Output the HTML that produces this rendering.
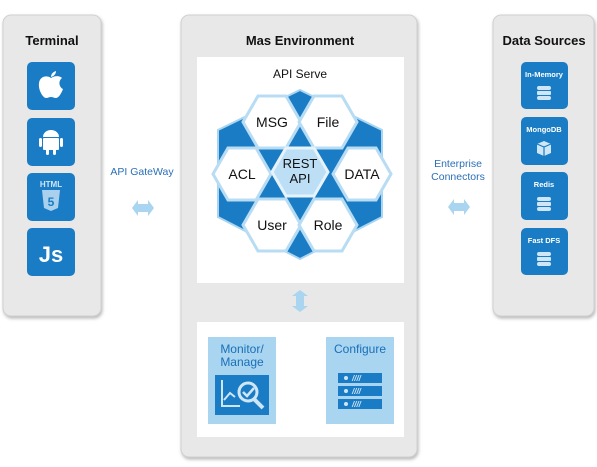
<!DOCTYPE html>
<html><head><style>
body{margin:0;background:#fff;}
svg{display:block;font-family:"Liberation Sans",sans-serif;}
</style></head><body>
<svg width="597" height="467" viewBox="0 0 597 467" xmlns="http://www.w3.org/2000/svg">
<defs>
<filter id="sh" x="-10%" y="-10%" width="130%" height="130%"><feDropShadow dx="1" dy="2" stdDeviation="1.5" flood-color="#888" flood-opacity="0.6"/></filter>
</defs>
<rect x="3" y="15" width="98" height="301" rx="8" fill="#e8e8e8" stroke="#d0d0d0" filter="url(#sh)"/>
<rect x="181" y="15" width="236" height="442" rx="8" fill="#e8e8e8" stroke="#d0d0d0" filter="url(#sh)"/>
<rect x="493" y="15" width="101" height="301" rx="8" fill="#e8e8e8" stroke="#d0d0d0" filter="url(#sh)"/>
<text x="52" y="45" font-size="13" font-weight="bold" text-anchor="middle" fill="#111">Terminal</text>
<text x="300" y="45" font-size="13" font-weight="bold" text-anchor="middle" fill="#111">Mas  Environment</text>
<text x="544" y="45" font-size="13" font-weight="bold" text-anchor="middle" fill="#111">Data Sources</text>
<g fill="#1a7cc4">
<rect x="27" y="62" width="48" height="48" rx="5"/>
<rect x="27" y="118" width="48" height="48" rx="5"/>
<rect x="27" y="173" width="48" height="48" rx="5"/>
<rect x="27" y="228" width="48" height="48" rx="5"/>
</g>
<path d="M51 78 c-4 -3 -11 -2 -12 5 c-1 7 4 15 7 15 c2 0 3 -1 5 -1 c2 0 3 1 5 1 c3 0 6 -6 7 -9 c-4 -2 -5 -8 -1 -11 c-3 -3 -8 -2 -11 0z M51 77 c0 -3 2 -5 5 -6 c0 3 -2 5 -5 6z" fill="#fff"/>
<g fill="#fff"><path d="M43 137 a8 7 0 0 1 16 0z"/><rect x="43" y="138" width="16" height="12" rx="1"/><rect x="39" y="138" width="3" height="9" rx="1.5"/><rect x="60" y="138" width="3" height="9" rx="1.5"/><rect x="46" y="149" width="3" height="6" rx="1.5"/><rect x="53" y="149" width="3" height="6" rx="1.5"/></g>
<text x="51" y="187" font-size="8" font-weight="bold" fill="#cfe6f7" text-anchor="middle">HTML</text>
<path d="M42 190 h18 l-2 18 l-7 3 l-7 -3z" fill="#a9d1ee"/>
<text x="51" y="206" font-size="12" font-weight="bold" fill="#1a7cc4" text-anchor="middle">5</text>
<text x="51" y="262" font-size="22" font-weight="bold" fill="#fff" text-anchor="middle">Js</text>
<g fill="#1a7cc4">
<rect x="521" y="62" width="47" height="47" rx="5"/>
<rect x="521" y="117" width="47" height="48" rx="5"/>
<rect x="521" y="172" width="47" height="48" rx="5"/>
<rect x="521" y="228" width="47" height="47" rx="5"/>
</g>
<g font-size="7.5" font-weight="bold" fill="#fff" text-anchor="middle">
<text x="544" y="77">In-Memory</text><text x="544" y="132">MongoDB</text><text x="544" y="187">Redis</text><text x="544" y="243">Fast DFS</text>
</g>
<g fill="#cfe6f7">
<rect x="537" y="86" width="14" height="4" rx="2"/><rect x="537" y="91" width="14" height="4" rx="1"/><rect x="537" y="96" width="14" height="4" rx="2"/>
<rect x="537" y="197" width="14" height="4" rx="2"/><rect x="537" y="202" width="14" height="4" rx="1"/><rect x="537" y="207" width="14" height="4" rx="2"/>
<rect x="537" y="252" width="14" height="4" rx="2"/><rect x="537" y="257" width="14" height="4" rx="1"/><rect x="537" y="262" width="14" height="4" rx="2"/>
<path d="M537 144 l7 -3 l7 3 v9 l-7 3 l-7 -3z"/>
</g>
<path d="M544 147 v9 M537 144 l7 3 l7 -3" stroke="#1a7cc4" stroke-width="1.2" fill="none"/>
<text x="142" y="175" font-size="10.5" fill="#2a6fb8" text-anchor="middle">API GateWay</text>
<text x="458" y="167" font-size="10.5" fill="#2a6fb8" text-anchor="middle">Enterprise</text>
<text x="458" y="180" font-size="10.5" fill="#2a6fb8" text-anchor="middle">Connectors</text>
<g fill="#a9d5f0">
<path d="M132 208 l6 -8 v4 h10 v-4 l6 8 l-6 8 v-4 h-10 v4z"/>
<path d="M448 207 l6 -8 v4 h10 v-4 l6 8 l-6 8 v-4 h-10 v4z"/>
<path d="M300 290 l8 6 h-4 v10 h4 l-8 6 l-8 -6 h4 v-10 h-4z"/>
</g>
<rect x="197" y="57" width="207" height="226" fill="#fff"/>
<rect x="197" y="322" width="207" height="115" fill="#fff"/>
<text x="300" y="78" font-size="12" fill="#111" text-anchor="middle">API Serve</text>
<polygon points="300,90 382,130 382,217 300,259 218,217 218,130" fill="#1a7cc4" stroke="#a9d5f0" stroke-width="2"/>
<g fill="#fff" stroke="#b7dcf3" stroke-width="3">
<polygon points="243,122 258,96 286,96 301,122 286,148 258,148"/>
<polygon points="299,122 314,96 342,96 357,122 342,148 314,148"/>
<polygon points="213,174 228,148 256,148 271,174 256,200 228,200"/>
<polygon points="333,174 348,148 376,148 391,174 376,200 348,200"/>
<polygon points="243,225 258,199 286,199 301,225 286,251 258,251"/>
<polygon points="299,225 314,199 342,199 357,225 342,251 314,251"/>
<polygon points="272,172 286,148 314,148 328,172 314,196 286,196" fill="#bcdff5" stroke="#e6f3fb"/>
</g>
<g font-size="14" fill="#111" text-anchor="middle">
<text x="272" y="127">MSG</text><text x="328" y="127">File</text>
<text x="242" y="179">ACL</text><text x="362" y="179">DATA</text>
<text x="272" y="230">User</text><text x="328" y="230">Role</text>
<text x="300" y="168" font-size="13">REST</text><text x="300" y="183" font-size="13">API</text>
</g>
<rect x="208" y="337" width="68" height="87" fill="#a9d5f0"/>
<rect x="326" y="337" width="68" height="87" fill="#a9d5f0"/>
<text x="242" y="353" font-size="12" fill="#1a6fb8" text-anchor="middle">Monitor/</text>
<text x="242" y="366" font-size="12" fill="#1a6fb8" text-anchor="middle">Manage</text>
<text x="360" y="353" font-size="12" fill="#1a6fb8" text-anchor="middle">Configure</text>
<rect x="215" y="375" width="54" height="40" fill="#1a7cc4"/>
<path d="M222 380 v26 h18 M224 400 l6 -7 l5 4" stroke="#cfe6f7" stroke-width="2" fill="none"/>
<circle cx="248" cy="392" r="9" fill="none" stroke="#cfe6f7" stroke-width="3"/>
<path d="M254 399 l9 9" stroke="#cfe6f7" stroke-width="4"/>
<path d="M243 392 l4 4 l7 -8" stroke="#cfe6f7" stroke-width="2.5" fill="none"/>
<g fill="#1a7cc4"><rect x="338" y="373" width="44" height="10"/><rect x="338" y="386" width="44" height="10"/><rect x="338" y="399" width="44" height="10"/></g>
<g fill="#cfe6f7" font-size="8" font-weight="bold" font-style="italic"><circle cx="346" cy="378" r="2"/><circle cx="346" cy="391" r="2"/><circle cx="346" cy="404" r="2"/>
<text x="352" y="381">////</text><text x="352" y="394">////</text><text x="352" y="407">////</text></g>
</svg>
</body></html>
